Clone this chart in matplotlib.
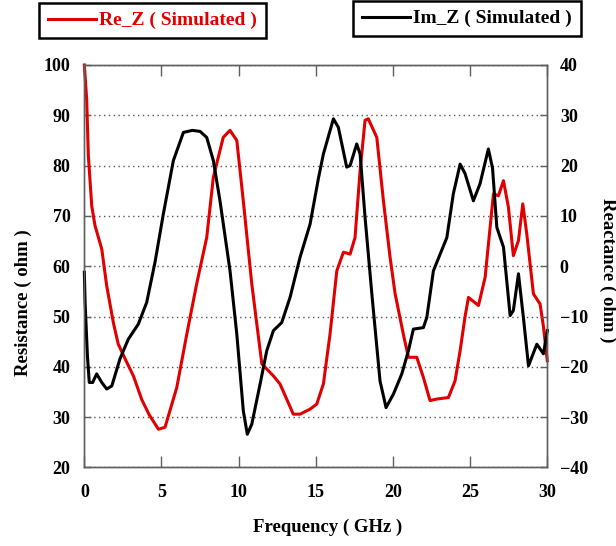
import matplotlib
matplotlib.use("Agg")
import matplotlib.pyplot as plt

# Re_Z (resistance) samples
re_freq = [0, 0.15, 0.26, 0.48, 0.69, 1.13, 1.45, 1.88, 2.2, 2.75, 3.18, 3.72,
           4.2, 4.8, 5.23, 5.99, 6.64, 7.28, 7.93, 8.36, 9.0, 9.44, 9.88, 10.3,
           10.85, 11.5, 12.25, 12.68, 13.54, 13.98, 14.63, 15.06, 15.49, 15.92,
           16.36, 16.79, 17.22, 17.54, 17.87, 18.19, 18.4, 18.95, 19.38, 19.81,
           20.14, 20.67, 21.0, 21.54, 21.97, 22.4, 22.84, 23.59, 24.02, 24.35,
           24.67, 24.89, 25.54, 25.97, 26.51, 26.83, 27.16, 27.48, 27.8, 28.13,
           28.41, 28.67, 29.1, 29.53, 29.75, 30.0]
re_z = [100, 93.3, 82.0, 72.0, 68.1, 63.4, 56.1, 48.8, 44.5, 40.9, 38.2, 33.5,
        30.5, 27.6, 28.0, 35.9, 46.5, 56.5, 65.7, 77.7, 85.6, 87.0, 85.0, 73.0,
        56.5, 40.6, 38.2, 36.6, 30.6, 30.6, 31.6, 32.6, 36.6, 46.5,
        59.1, 62.8, 62.4, 65.7, 79.0, 89.0, 89.3, 85.6, 73.0, 61.8,
        54.5, 46.5, 41.9, 41.9, 37.9, 33.3, 33.6, 33.9, 37.2, 43.2,
        50.0, 53.8, 52.2, 57.8, 74.4, 74.0, 77.0, 71.7, 62.1, 65.1,
        72.4, 66.4, 54.5, 52.5, 48.0, 41.2]

# Im_Z (reactance) samples
im_freq = [0, 0.05, 0.2, 0.32, 0.54, 0.8, 1.13, 1.45, 1.78, 2.31, 2.85, 3.5,
           4.04, 4.58, 5.12, 5.77, 6.42, 7.0, 7.5, 7.93, 8.36, 8.79, 9.44,
           9.88, 10.3, 10.56, 10.85, 11.39, 11.82, 12.25, 12.79, 13.33, 13.98,
           14.63, 15.17, 15.49, 16.14, 16.46, 17.0, 17.22, 17.65, 17.87, 18.19,
           18.63, 19.16, 19.55, 20.03, 20.57, 21.0, 21.32, 21.97, 22.19, 22.62,
           23.49, 23.91, 24.35, 24.67, 25.21, 25.64, 26.18, 26.45, 26.73, 27.16,
           27.59, 27.8, 28.13, 28.45, 28.78, 29.32, 29.75, 30.0]
im_z = [-1.2, -7.2, -17.8, -23.1, -23.1, -21.4, -23.1, -24.4, -23.8, -18.4, -14.5, -11.5,
        -7.2, 0.8, 10.4, 21.0, 26.6, 27.0, 26.8, 25.6, 21.0, 13.0, -0.9,
        -13.5, -28.7, -33.4, -31.4, -23.4, -16.8, -12.8, -11.2, -6.2, 1.8,
        8.4, 17.5, 22.3, 29.3, 27.6, 19.7, 20.0, 24.3, 22.3, 9.7,
        -5.5, -22.8, -28.1, -25.4, -21.4, -16.8, -12.5, -12.2, -10.2, -0.9,
        5.7, 14.4, 20.3, 18.4, 13.0, 16.4, 23.3, 19.5, 7.7, 3.8,
        -9.8, -8.8, -1.5, -10.2, -19.8, -15.5, -17.4, -12.8]

x_ticks = [0, 5, 10, 15, 20, 25, 30]
res_ticks = [20, 30, 40, 50, 60, 70, 80, 90, 100]
react_ticks = [-40, -30, -20, -10, 0, 10, 20, 30, 40]

plt.rcParams['font.family'] = ['Liberation Serif', 'DejaVu Serif']
plt.rcParams['font.weight'] = 'bold'

fig = plt.figure(figsize=(6.16, 5.46), dpi=100)
ax = fig.add_axes([0.1369, 0.1438, 0.7516, 0.7372])
ax2 = ax.twinx()

spine_col = '#606060'
for a in (ax, ax2):
    for s in a.spines.values():
        s.set_color(spine_col)
        s.set_linewidth(1.0)

# left axis: resistance
ax.set_xlim(0, 30)
ax.set_ylim(20, 100)
ax.set_xticks(x_ticks)
ax.set_yticks(res_ticks)
ax.grid(axis='y', linestyle=(0, (1, 2.5)), color='#555555', linewidth=1.0)
ax.tick_params(axis='x', direction='in', length=8, width=1, color=spine_col,
               top=True, labelsize=13, pad=12)
ax.tick_params(axis='y', direction='in', length=5, width=1, color=spine_col,
               labelsize=13, pad=10)
ax.set_xlabel('Frequency ( GHz )', fontsize=13.5, fontweight='bold')
ax.set_ylabel('Resistance ( ohm )', fontsize=13.5, fontweight='bold')
ax.xaxis.set_label_coords(0.525, -0.128)
ax.yaxis.set_label_coords(-0.113, 0.41)

# right axis: reactance
ax2.set_ylim(-40, 40)
ax2.set_yticks(react_ticks)
ax2.tick_params(axis='y', direction='in', length=5, width=1, color=spine_col,
                labelsize=13, pad=9)
ax2.set_ylabel('Reactance ( ohm )', fontsize=13.5, fontweight='bold', rotation=-90)
ax2.yaxis.set_label_coords(1.15, 0.49)

line_re, = ax.plot(re_freq, re_z, color='#e00000', linewidth=2.2, label='Re_Z ( Simulated )')
line_im, = ax2.plot(im_freq, im_z, color='black', linewidth=2.2, label='Im_Z ( Simulated )')
for l in (line_re, line_im):
    l.set_clip_on(False)

# two separate legend boxes above the plot
leg_kw = dict(frameon=True, fancybox=False, fontsize=14, handlelength=2.5,
              handletextpad=0.15, borderpad=0.45, borderaxespad=0)
leg1 = fig.legend(handles=[line_re], loc='upper left',
                  bbox_to_anchor=(39 / 616, 1 - 3 / 546), **leg_kw)
leg2 = fig.legend(handles=[line_im], loc='upper left',
                  bbox_to_anchor=(353 / 616, 1 - 1 / 546), **leg_kw)
for leg in (leg1, leg2):
    fr = leg.get_frame()
    fr.set_edgecolor('black')
    fr.set_linewidth(1.8)
    fr.set_alpha(1)
for t in leg1.get_texts():
    t.set_color('#e00000')

fig.savefig('out.png', dpi=100)
